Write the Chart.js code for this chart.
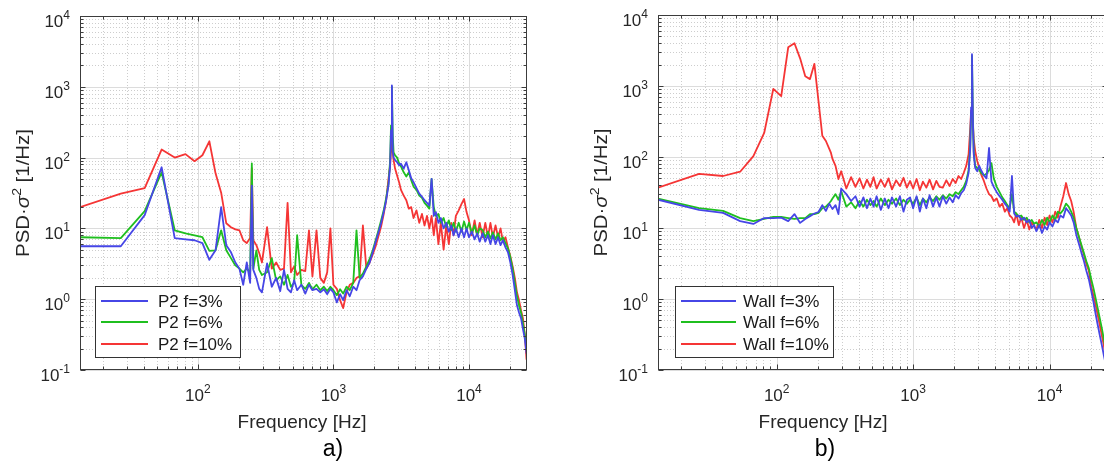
<!DOCTYPE html>
<html>
<head>
<meta charset="utf-8">
<script src="https://cdn.jsdelivr.net/npm/chart.js@4.4.1/dist/chart.umd.min.js"></script>
<style>
  html, body { margin: 0; padding: 0; background: #fff; width: 1104px; height: 464px; overflow: hidden; }
  .panel { position: absolute; top: 0; width: 560px; height: 464px; }
  #wrapA { left: 0; }
  #wrapB { left: 560px; }
</style>
</head>
<body>
<div id="wrapA" class="panel"><canvas id="chartA" width="560" height="464"></canvas></div>
<div id="wrapB" class="panel"><canvas id="chartB" width="560" height="464"></canvas></div>
<script>
// frequency bins [Hz], shared by both panels
const freq = [
  13.5, 27, 40.5, 54, 67.5, 81, 94.5, 108, 121.5, 135,
  148.5, 162, 175.5, 189, 202.5, 216, 229.5, 243, 250, 256.5,
  270, 283.5, 297, 324, 351, 378, 405, 432, 459, 486,
  513, 540, 580, 620, 660, 700, 750, 800, 850, 900,
  950, 1000, 1060, 1120, 1180, 1250, 1320, 1400, 1480, 1560,
  1650, 1750, 1850, 1950, 2050, 2150, 2250, 2350, 2450, 2550,
  2620, 2660, 2700, 2740, 2780, 2850, 2950, 3050, 3150, 3300,
  3450, 3600, 3750, 3900, 4100, 4300, 4500, 4700, 4900, 5100,
  5300, 5500, 5700, 5950, 6200, 6500, 6800, 7100, 7400, 7700,
  8000, 8400, 8800, 9200, 9600, 10000, 10500, 11000, 11500, 12000,
  12600, 13200, 13800, 14400, 15000, 15700, 16400, 17100, 17800, 18600,
  19400, 20200, 21000, 21800, 22600, 23400, 24200, 25000, 25800, 26600
];

// panel a) P2
const p2f3 = [
  5.6, 5.6, 15.4, 73, 7.3, 7.0, 6.8, 6.2, 3.6, 4.9,
  20, 5.8, 4.6, 3.3, 2.7, 1.6, 3.3, 1.7, 40, 2.6,
  2.0, 1.4, 1.25, 3.2, 1.5, 2.0, 1.3, 2.6, 1.4, 1.25,
  1.85, 1.34, 1.6, 1.2, 1.6, 1.34, 1.4, 1.25, 1.38, 1.18,
  1.4, 1.25, 0.9, 1.18, 0.97, 1.34, 1.1, 1.5, 1.34, 1.85,
  2.1, 2.7, 3.3, 4.6, 6.4, 8.8, 12, 17, 25, 41,
  78, 244, 1050, 127, 100, 92, 86, 78, 82, 70,
  86, 66, 51, 45, 37, 31, 28, 25, 23, 21,
  50, 15, 17, 12, 14, 10, 12, 9, 11, 8,
  10, 7.5, 10, 7.5, 10, 7.5, 9, 7, 8.5, 6.5,
  8.5, 6.5, 8, 6, 8, 6, 7.5, 5.8, 6.8, 5.4,
  4.6, 3.3, 2.2, 1.34, 0.82, 0.65, 0.54, 0.38, 0.28, 0.17
];
const p2f6 = [
  7.5, 7.3, 17.5, 62, 9.4, 8.5, 8.0, 7.5, 4.8, 4.9,
  9.4, 4.9, 3.8, 3.0, 2.7, 2.4, 2.7, 2.4, 83, 2.7,
  4.9, 2.6, 2.2, 2.4, 3.8, 1.85, 2.1, 1.6, 2.2, 1.5,
  1.7, 8.0, 1.6, 1.4, 1.7, 1.38, 1.6, 1.34, 1.5, 1.3,
  1.5, 1.34, 1.14, 1.38, 1.2, 1.5, 1.34, 1.7, 9.4, 2.0,
  2.3, 2.9, 3.7, 4.9, 6.8, 9.4, 13, 18, 27, 43,
  92, 285, 1000, 206, 118, 108, 100, 83, 75, 62,
  54, 62, 48, 39, 35, 29, 27, 23, 21, 19,
  50, 20, 15, 16, 12, 14, 10.5, 13, 9.5, 12,
  9, 12, 9, 12.5, 9.5, 12, 8.5, 11, 8, 10,
  9.5, 7.5, 9, 7.2, 8.8, 7, 8.5, 6.8, 7.5, 6.2,
  5.2, 3.9, 2.7, 1.7, 1.1, 0.82, 0.65, 0.46, 0.32, 0.2
];
const p2f10 = [
  20, 31, 37, 130, 100, 112, 89, 108, 170, 60,
  32, 11.8, 10.4, 9.7, 9.4, 6.8, 6.2, 7.3, 71, 6.8,
  5.8, 4.5, 3.3, 10.4, 2.7, 3.3, 2.6, 2.7, 23, 2.4,
  2.9, 2.2, 2.6, 2.5, 9.4, 2.1, 9.4, 2.0, 1.7, 2.4,
  10, 1.6, 1.4, 0.97, 0.75, 1.25, 1.6, 1.7, 2.0, 2.1,
  11, 2.7, 3.3, 4.3, 5.6, 7.8, 10.7, 16, 25, 51,
  78, 127, 188, 118, 92, 70, 56, 45, 35, 29,
  25, 19, 20, 14, 18, 12, 16, 11, 15, 10,
  15, 8, 14, 6, 12, 5, 11, 6, 12, 8,
  15, 18, 22, 26, 17, 13, 8, 13, 8, 12,
  7.5, 12, 7.5, 12, 7.5, 11, 7.5, 10, 6.5, 7.5,
  5.4, 4.0, 2.9, 2.0, 1.25, 0.97, 0.7, 0.54, 0.32, 0.14
];

// panel b) Wall
const wallf3 = [
  25, 18, 16.3, 12.5, 11.4, 13.8, 13.8, 14, 12.5, 15.7,
  11.8, 13.4, 14.7, 16, 16.8, 21, 17.4, 22, 20, 18.5,
  21, 15.7, 36, 30, 24, 28, 20, 27, 19, 26,
  20, 28, 18, 26, 19, 27, 20, 28, 17, 25,
  27, 19, 28, 17, 26, 19, 29, 20, 27, 20,
  28, 22, 27, 23, 29, 26, 31, 34, 42, 60,
  130, 500, 2800, 350, 110, 70, 63, 75, 65, 55,
  50, 134, 45, 38, 32, 28, 25, 22, 20, 17,
  54, 16, 14.5, 15, 13, 14, 12, 13, 10, 11,
  9, 11, 8.5, 10.5, 9.5, 12, 10.5, 13, 12, 15,
  14, 19, 17, 15, 12, 8, 6, 4.5, 3.5, 2.5,
  1.9, 1.3, 0.9, 0.6, 0.42, 0.3, 0.22, 0.16, 0.12, 0.09
];
const wallf6 = [
  26, 19, 17.4, 13.8, 12.5, 13.4, 14.3, 14.3, 13.8, 13.4,
  13.8, 13.8, 15.7, 15.7, 16.3, 19, 20, 22.5, 24, 26,
  30, 25, 33, 20, 23, 19, 24, 20, 25, 21,
  24, 20, 26, 21, 25, 22, 26, 21, 25, 22,
  25, 22, 27, 21, 26, 23, 27, 24, 28, 25,
  29, 26, 30, 28, 32, 30, 34, 38, 46, 65,
  140, 420, 2650, 400, 120, 75, 70, 66, 60, 55,
  58, 65, 82, 50, 38, 32, 27, 24, 21, 19,
  30, 17, 16, 14.5, 15, 13, 14, 12, 13, 11.5,
  12, 10.5, 13, 11, 14, 12, 15, 13, 17, 16,
  18, 22, 20, 17, 14, 10, 7.5, 5.8, 4.5, 3.4,
  2.7, 1.9, 1.4, 1.0, 0.72, 0.52, 0.38, 0.27, 0.19, 0.13
];
const wallf10 = [
  37, 58, 54, 62, 103, 218, 910, 720, 3500, 4000,
  2450, 1370, 1250, 2050, 615, 200, 168, 130, 114, 94,
  75, 49, 63, 36, 52, 38, 50, 36, 48, 38,
  52, 36, 48, 38, 50, 35, 47, 39, 51, 37,
  46, 36, 49, 34, 45, 37, 48, 35, 46, 38,
  37, 47, 39, 49, 43, 54, 49, 60, 75, 110,
  250, 450, 770, 300, 180, 121, 88, 70, 57, 46,
  36, 30, 28, 24, 26, 20, 22, 17, 19, 15,
  14, 12, 16, 11, 14, 10, 13, 9.5, 12, 10.5,
  9.5, 13, 10, 14, 11, 15, 12, 17, 14, 20,
  28, 43, 30, 24, 17, 10, 7.5, 5.5, 4.3, 3.1,
  2.5, 1.5, 1.1, 0.8, 0.58, 0.42, 0.3, 0.22, 0.15, 0.11
];

const labelsA = ['P2 f=3%', 'P2 f=6%', 'P2 f=10%'];
const labelsB = ['Wall f=3%', 'Wall f=6%', 'Wall f=10%'];
const colors = ['#4646e6', '#1fbf1f', '#f53535'];
const xMin = 13.5, xMax = 26800, yMin = 0.1, yMax = 10000;

const FONT = '"Liberation Sans", Arial, Helvetica, sans-serif';

// 1..9 x 10^n steps inside [min, max]
function decadeSteps(min, max) {
  const out = [];
  for (let e = Math.floor(Math.log10(min)); e <= Math.ceil(Math.log10(max)); e++) {
    for (let m = 1; m < 10; m++) {
      const v = m * Math.pow(10, e);
      if (v >= min * 0.999 && v <= max * 1.001) out.push({ v, e, major: m === 1 });
    }
  }
  return out;
}

function powerText(ctx, exp, x, midY, align) {
  const e = String(exp);
  ctx.font = '17px ' + FONT;
  const wb = ctx.measureText('10').width;
  ctx.font = '12px ' + FONT;
  const we = ctx.measureText(e).width;
  const left = align === 'right' ? x - wb - we : x - (wb + we) / 2;
  ctx.textAlign = 'left';
  ctx.textBaseline = 'alphabetic';
  ctx.font = '17px ' + FONT;
  ctx.fillText('10', left, midY + 6);
  ctx.font = '12px ' + FONT;
  ctx.fillText(e, left + wb, midY - 2);
}

function yTitle(ctx, cx, cy) {
  const parts = [
    { t: 'PSD\u00b7', f: '19px ' + FONT, dy: 0 },
    { t: '\u03c3', f: 'italic 19px ' + FONT, dy: 0 },
    { t: '2', f: '13px ' + FONT, dy: -8 },
    { t: ' [1/Hz]', f: '19px ' + FONT, dy: 0 }
  ];
  let total = 0;
  parts.forEach(p => { ctx.font = p.f; p.w = ctx.measureText(p.t).width; total += p.w; });
  ctx.save();
  ctx.translate(cx, cy);
  ctx.rotate(-Math.PI / 2);
  ctx.scale(128 / total, 1);
  ctx.textAlign = 'left';
  ctx.textBaseline = 'alphabetic';
  let xx = -total / 2;
  parts.forEach(p => { ctx.font = p.f; ctx.fillText(p.t, xx, 6 + p.dy); xx += p.w; });
  ctx.restore();
}

const matlabAxes = {
  id: 'matlabAxes',
  beforeDatasetsDraw(chart) {
    const { ctx, chartArea: a, scales: { x, y } } = chart;
    const xs = decadeSteps(x.min, x.max), ys = decadeSteps(y.min, y.max);
    ctx.save();
    ctx.lineWidth = 1;
    // minor grid, dotted
    ctx.setLineDash([1, 2]);
    ctx.strokeStyle = '#cdcdcd';
    ctx.beginPath();
    xs.filter(t => !t.major).forEach(t => {
      const p = Math.round(x.getPixelForValue(t.v)) + 0.5;
      ctx.moveTo(p, a.top); ctx.lineTo(p, a.bottom);
    });
    ys.filter(t => !t.major).forEach(t => {
      const p = Math.round(y.getPixelForValue(t.v)) + 0.5;
      ctx.moveTo(a.left, p); ctx.lineTo(a.right, p);
    });
    ctx.stroke();
    // major grid, solid
    ctx.setLineDash([]);
    ctx.strokeStyle = '#dcdcdc';
    ctx.beginPath();
    xs.filter(t => t.major).forEach(t => {
      const p = Math.round(x.getPixelForValue(t.v)) + 0.5;
      ctx.moveTo(p, a.top); ctx.lineTo(p, a.bottom);
    });
    ys.filter(t => t.major).forEach(t => {
      const p = Math.round(y.getPixelForValue(t.v)) + 0.5;
      ctx.moveTo(a.left, p); ctx.lineTo(a.right, p);
    });
    ctx.stroke();
    ctx.restore();
  },
  afterDatasetsDraw(chart, args, o) {
    const { ctx, chartArea: a, scales: { x, y } } = chart;
    const xs = decadeSteps(x.min, x.max), ys = decadeSteps(y.min, y.max);
    ctx.save();
    ctx.lineWidth = 1;
    ctx.strokeStyle = '#3c3c3c';
    const L = Math.round(a.left) + 0.5, R = Math.round(a.right) - 0.5;
    const T = Math.round(a.top) + 0.5, B = Math.round(a.bottom) - 0.5;
    ctx.strokeRect(L, T, R - L, B - T);
    // ticks on all four sides
    ctx.beginPath();
    xs.forEach(t => {
      const p = Math.round(x.getPixelForValue(t.v)) + 0.5, len = t.major ? 5 : 3;
      ctx.moveTo(p, B); ctx.lineTo(p, B - len);
      ctx.moveTo(p, T); ctx.lineTo(p, T + len);
    });
    ys.forEach(t => {
      const p = Math.round(y.getPixelForValue(t.v)) + 0.5, len = t.major ? 5 : 3;
      ctx.moveTo(L, p); ctx.lineTo(L + len, p);
      ctx.moveTo(R, p); ctx.lineTo(R - len, p);
    });
    ctx.stroke();

    // tick labels
    ctx.fillStyle = '#262626';
    xs.filter(t => t.major).forEach(t => powerText(ctx, t.e, x.getPixelForValue(t.v), a.bottom + 25, 'center'));
    ys.filter(t => t.major).forEach(t => powerText(ctx, t.e, a.left - 10, y.getPixelForValue(t.v) + 5, 'right'));

    // axis titles and panel tag
    ctx.textAlign = 'center';
    ctx.textBaseline = 'alphabetic';
    ctx.font = '19px ' + FONT;
    ctx.fillText('Frequency [Hz]', o.xTitleX, 428);
    yTitle(ctx, o.yTitleX, (a.top + a.bottom) / 2);
    ctx.fillStyle = '#000';
    ctx.font = '23px ' + FONT;
    ctx.fillText(o.tag, o.tagX, 456);

    // legend box
    const lg = o.legend;
    ctx.fillStyle = '#fff';
    ctx.fillRect(lg.x0, lg.y0, lg.x1 - lg.x0, lg.y1 - lg.y0);
    ctx.strokeStyle = '#333';
    ctx.strokeRect(lg.x0 + 0.5, lg.y0 + 0.5, lg.x1 - lg.x0, lg.y1 - lg.y0);
    chart.data.datasets.forEach((ds, i) => {
      const ry = lg.rows[i];
      ctx.strokeStyle = ds.borderColor;
      ctx.lineWidth = 2;
      ctx.beginPath();
      ctx.moveTo(lg.lx0, ry); ctx.lineTo(lg.lx1, ry);
      ctx.stroke();
      ctx.fillStyle = '#1a1a1a';
      ctx.font = '17px ' + FONT;
      ctx.textAlign = 'left';
      ctx.fillText(ds.label, lg.tx, ry + 6);
    });
    ctx.restore();
  }
};

function makeChart(id, series, labels, pad, txt) {
  return new Chart(document.getElementById(id), {
    type: 'line',
    data: {
      datasets: series.map((s, i) => ({
        label: labels[i],
        data: freq.map((f, k) => ({ x: f, y: s[k] })),
        borderColor: colors[i],
        borderWidth: 1.8,
        borderJoinStyle: 'round',
        pointRadius: 0,
        tension: 0,
        fill: false
      }))
    },
    options: {
      responsive: false,
      animation: false,
      devicePixelRatio: 1,
      layout: { padding: pad },
      scales: {
        x: { type: 'logarithmic', min: xMin, max: xMax, display: false },
        y: { type: 'logarithmic', min: yMin, max: yMax, display: false }
      },
      plugins: {
        legend: { display: false },
        tooltip: { enabled: false },
        matlabAxes: txt
      }
    },
    plugins: [matlabAxes]
  });
}

makeChart('chartA', [p2f3, p2f6, p2f10], labelsA,
  { left: 80, right: 33, top: 16, bottom: 94 },
  { xTitleX: 302, yTitleX: 23, tag: 'a)', tagX: 333,
    legend: { x0: 95, y0: 286, x1: 240, y1: 357, lx0: 101, lx1: 148, tx: 158, rows: [301, 322, 344] } });

makeChart('chartB', [wallf3, wallf6, wallf10], labelsB,
  { left: 98, right: 12, top: 15, bottom: 94 },
  { xTitleX: 263, yTitleX: 41, tag: 'b)', tagX: 265,
    legend: { x0: 115, y0: 286, x1: 273, y1: 357, lx0: 121, lx1: 176, tx: 183, rows: [301, 322, 344] } });
</script>
</body>
</html>
